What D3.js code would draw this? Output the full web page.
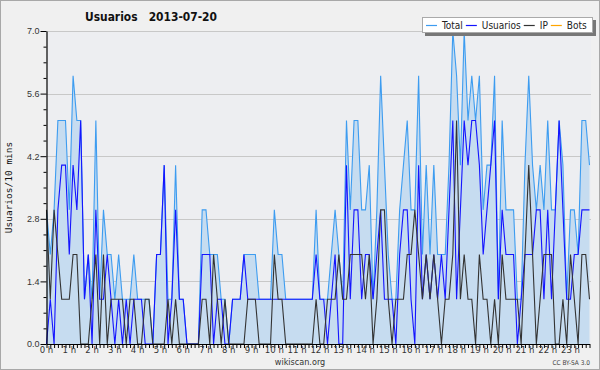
<!DOCTYPE html>
<html>
<head>
<meta charset="utf-8">
<script src="https://cdn.jsdelivr.net/npm/d3@7/dist/d3.min.js"></script>
<style>
  body { margin: 0; background: #fff; }
  svg { display: block; }
</style>
</head>
<body>
<div id="chart"></div>
<script>
// edits per 10 minutes, 2013-07-20, slot 0 = 00:00
const total = [3,2,3,5,5,5,3,6,5,5,1,2,1,5,1,3,2,2,1,2,1,1,1,2,
  1,1,1,1,0,2,2,4,1,1,4,1,1,0,0,0,0,3,3,2,2,2,1,1,
  0,1,1,1,2,2,2,2,1,1,1,1,3,2,2,1,1,1,1,1,1,1,1,3,
  1,1,1,2,3,2,1,5,3,5,5,3,3,4,1,3,6,4,2,1,1,3,4,5,
  3,3,6,2,4,2,4,2,2,2,4,7,6,4,7,5,6,5,6,3,4,4,6,1,
  5,3,3,3,1,1,4,6,4,3,4,3,5,3,3,5,4,1,3,3,2,5,5,4]
const usuarios = [0,1,0,3,4,4,2,4,3,5,1,2,0,3,1,1,2,1,0,1,0,1,0,1,
  1,1,0,0,0,2,2,4,0,1,3,1,1,0,0,0,0,2,2,2,0,1,1,0,
  0,1,1,1,2,1,1,1,1,1,1,1,1,1,1,1,1,1,1,1,1,1,1,2,
  1,1,0,1,2,0,0,4,1,3,3,1,2,2,1,2,3,1,1,1,0,2,3,3,
  1,0,4,1,2,1,2,1,2,1,3,5,1,3,5,4,5,5,4,2,3,4,5,1,
  3,2,2,2,0,1,2,2,2,3,3,1,3,1,3,5,3,1,1,2,2,3,3,3]
const ip = [3,1,3,2,1,1,1,2,2,0,0,0,1,2,0,2,0,1,1,1,1,0,1,1,
  0,0,1,1,0,0,0,0,1,0,1,0,0,0,0,0,0,1,1,0,2,1,0,1,
  0,0,0,0,0,1,1,1,0,0,0,0,2,1,1,0,0,0,0,0,0,0,0,1,
  0,0,1,1,1,2,1,1,2,2,2,2,1,2,0,1,3,3,1,0,1,1,1,2,
  2,3,2,1,2,1,2,1,0,1,1,2,5,1,2,1,1,0,2,1,1,0,1,0,
  2,1,1,1,1,0,2,4,2,0,1,2,2,2,0,0,1,0,2,1,0,2,2,1]
const yTicks = [0, 1.4, 2.8, 4.2, 5.6, 7.0]
const yMinor = [0.35, 0.7, 1.05, 1.75, 2.1, 2.45, 3.15, 3.5, 3.85, 4.55, 4.9, 5.25, 5.95, 6.3, 6.65]
const hours = d3.range(24)
const legendItems = [
  {name: "Total", color: "#3d9cf0"},
  {name: "Usuarios", color: "#1414ff"},
  {name: "IP", color: "#333333"},
  {name: "Bots", color: "#ffa500"}
]

const width = 600
const height = 370
const cond = "'DejaVu Sans Condensed', 'DejaVu Sans', sans-serif"

const svg = d3.select("#chart").append("svg")
  .attr("width", width)
  .attr("height", height)
  .style("font-family", cond)

// page background + frame
svg.append("rect")
  .attr("x", 0.5).attr("y", 0.5)
  .attr("width", width - 1).attr("height", height - 1)
  .attr("fill", "#f0f0f0")
  .attr("stroke", "#a8a8a8")

const x = d3.scaleLinear().domain([0, 143]).range([46.5, 589.5])
const y = d3.scaleLinear().domain([0, 7]).range([344, 31])

svg.append("rect")
  .attr("x", x(0)).attr("y", y(7))
  .attr("width", 591 - x(0))
  .attr("height", y(0) - y(7))
  .attr("fill", "#edeef1")

// grid
svg.append("g")
  .selectAll("line")
  .data(yTicks.filter(d => d > 0))
  .join("line")
  .attr("x1", x(0)).attr("x2", 591)
  .attr("y1", d => Math.round(y(d)) + 0.5).attr("y2", d => Math.round(y(d)) + 0.5)
  .attr("stroke", "#c8c8c8")

const idx = d3.range(total.length)

svg.append("path")
  .datum(idx)
  .attr("fill", "#c6dcf0")
  .attr("d", d3.area().x(i => x(i)).y0(y(0)).y1(i => y(total[i])))

const lineOf = arr => d3.line().x(i => x(i)).y(i => y(arr[i]))

svg.append("path").datum(idx)
  .attr("fill", "none").attr("stroke", "#3d9cf0").attr("stroke-width", 1.1)
  .attr("d", lineOf(total))
svg.append("path").datum(idx)
  .attr("fill", "none").attr("stroke", "#1414ff").attr("stroke-width", 1.1)
  .attr("d", lineOf(usuarios))
svg.append("path").datum(idx)
  .attr("fill", "none").attr("stroke", "#333").attr("stroke-width", 1.1)
  .attr("d", lineOf(ip))

// y axis, with small ticks between the labelled ones
const yAxis = svg.append("g")
  .attr("transform", `translate(${x(0)},0)`)
  .call(d3.axisLeft(y).tickValues(yTicks).tickFormat(d3.format(".1f"))
    .tickSize(6).tickPadding(1).tickSizeOuter(0))
yAxis.select(".domain").attr("stroke", "#000").attr("stroke-width", 1.2)
yAxis.selectAll("text").attr("font-size", 9).attr("fill", "#333")
svg.append("g")
  .attr("transform", `translate(${x(0)},0)`)
  .call(d3.axisLeft(y).tickValues(yMinor).tickFormat("").tickSize(3).tickSizeOuter(0))
  .call(g => g.select(".domain").remove())

// x axis: ticks every 10 min, labels every hour
const xAxis = svg.append("g")
  .attr("transform", `translate(0,${y(0)})`)
  .call(d3.axisBottom(x).tickValues(idx).tickFormat("").tickSize(4).tickSizeOuter(0))
xAxis.select(".domain").attr("stroke", "#000").attr("stroke-width", 1.2)
xAxis.selectAll(".tick line").attr("stroke", "#000")

svg.append("g")
  .selectAll("text")
  .data(hours)
  .join("text")
  .attr("x", h => x(h * 6))
  .attr("y", 353)
  .attr("text-anchor", "middle")
  .attr("font-size", 9.5)
  .attr("fill", "#333")
  .text(h => h + " h")

// titles
svg.append("text")
  .attr("x", 85).attr("y", 21)
  .attr("font-size", 13).attr("font-weight", "bold")
  .attr("fill", "#111")
  .attr("textLength", 132).attr("lengthAdjust", "spacingAndGlyphs")
  .attr("xml:space", "preserve")
  .text("Usuarios   2013-07-20")

svg.append("text")
  .attr("transform", `translate(12,${(y(0) + y(7)) / 2}) rotate(-90)`)
  .attr("text-anchor", "middle")
  .attr("font-family", "'DejaVu Sans Mono', monospace")
  .attr("font-size", 9.5)
  .attr("fill", "#111")
  .text("Usuarios/10 mins")

svg.append("text")
  .attr("x", 300).attr("y", 365)
  .attr("text-anchor", "middle")
  .attr("font-size", 9).attr("fill", "#333")
  .text("wikiscan.org")

svg.append("text")
  .attr("x", 590).attr("y", 365)
  .attr("text-anchor", "end")
  .attr("font-size", 6.5).attr("fill", "#444")
  .text("CC BY-SA 3.0")

// legend
const lg = svg.append("g").attr("transform", "translate(422,17)")
lg.append("rect").attr("x", 3).attr("y", 3).attr("width", 171).attr("height", 16).attr("fill", "#777")
lg.append("rect").attr("x", 0.5).attr("y", 0.5).attr("width", 170).attr("height", 15)
  .attr("fill", "#fff").attr("stroke", "#aaa")
let lx = 4
legendItems.forEach(it => {
  lg.append("line").attr("x1", lx).attr("x2", lx + 11).attr("y1", 8.5).attr("y2", 8.5)
    .attr("stroke", it.color).attr("stroke-width", 1.2)
  const t = lg.append("text").attr("x", lx + 16).attr("y", 12)
    .attr("font-size", 10).attr("fill", "#222").text(it.name)
  lx += 16 + t.node().getComputedTextLength() + 3
})
</script>
</body>
</html>
